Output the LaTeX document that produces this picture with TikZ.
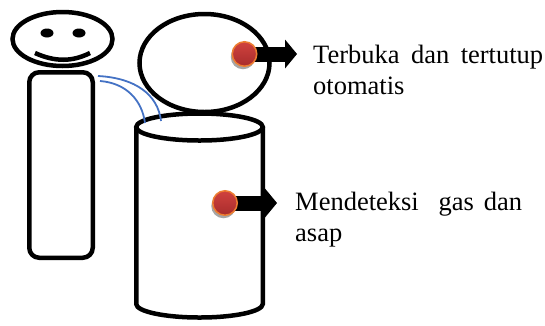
\documentclass[tikz,border=0pt]{standalone}
\usepackage{fontspec}
\setmainfont{Liberation Serif}
\usetikzlibrary{arrows.meta,shadows}
\definecolor{wireblue}{RGB}{68,114,196}
\definecolor{ledred}{RGB}{208,66,62}
\definecolor{leddark}{RGB}{168,44,44}
\definecolor{ledrim}{RGB}{237,125,49}
\tolerance=10000
\hyphenpenalty=10000
\begin{document}
\begin{tikzpicture}[x=1pt,y=-1pt,
  outline/.style={line width=4.5pt},
  led/.style={circle,minimum size=24.5pt,inner sep=0pt,draw=ledrim,line width=1.5pt,
    top color=ledred,bottom color=leddark,
    drop shadow={shadow xshift=-1.5pt,shadow yshift=-3pt,fill=black!35,opacity=1}},
  pointer/.style={line width=15pt,-{Triangle[length=12pt,width=29pt,line width=0pt]}},
  wire/.style={wireblue,line width=1.8pt},
  note/.style={anchor=base west,inner sep=0pt,text width=230pt,align=justify,
    font=\fontsize{26.5}{31}\selectfont}]
\useasboundingbox (0,0) rectangle (545,325);
% orang
\draw[outline,rounded corners=10pt] (29.25,72.25) rectangle (92.75,257.75);
\draw[outline] (62.5,39) ellipse [x radius=50, y radius=27];
\fill (47,33) ellipse [x radius=6.5, y radius=4.5];
\fill (79,33) ellipse [x radius=6.5, y radius=4.5];
\draw[outline] (35,53) .. controls (55,62) and (72,62) .. (90,53);
% tutup tempat sampah
\draw[outline] (204.5,63) ellipse [x radius=65, y radius=49];
% tempat sampah
\draw[outline] (199.5,127) ellipse [x radius=63.25, y radius=13.5];
\draw[outline] (136.25,127) -- (136.25,304) arc[start angle=180, end angle=0, x radius=63.25, y radius=13.5] -- (262.75,127);
% kabel
\draw[wire] (98,76) .. controls (136,78) and (158,95) .. (161,121);
\draw[wire] (100,81) .. controls (126,83) and (142,100) .. (145,123);
% sensor
\coordinate (lidtip) at (297,54);
\coordinate (bintip) at (277,203);
\draw[pointer] (244.5,54) -- (lidtip);
\draw[pointer] (225,203) -- (bintip);
\node[led] (lidsensor) at (244.5,54) {};
\node[led] (binsensor) at (225,203) {};
\node[note] (lidtext) at (313,63) {Terbuka dan tertutup otomatis};
\node[note,text width=227pt] (bintext) at (295,210) {Mendeteksi\ \ gas dan asap};
\end{tikzpicture}
\end{document}
